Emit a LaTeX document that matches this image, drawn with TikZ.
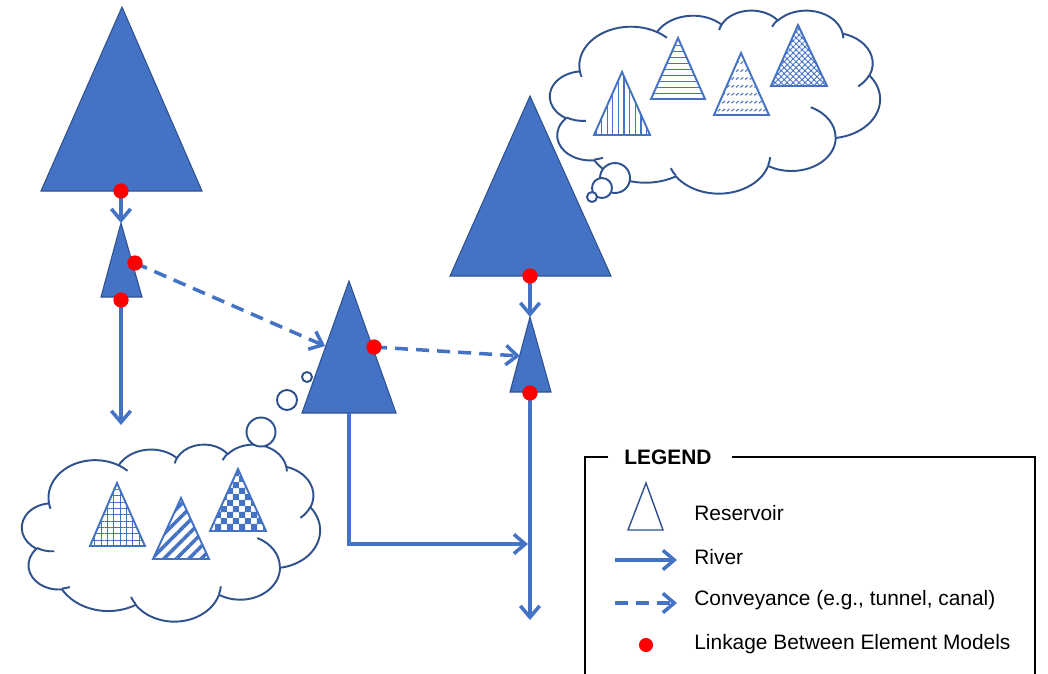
\documentclass[tikz,border=0pt]{standalone}
\usepackage{fontspec}
\setmainfont{Liberation Sans}
\usetikzlibrary{arrows.meta,patterns,patterns.meta}
\definecolor{oblue}{HTML}{4472C4}
\definecolor{odark}{HTML}{2F528F}
\definecolor{linkred}{HTML}{FF0000}
\pgfdeclarepatternformonly{bigchecker}{\pgfpointorigin}{\pgfqpoint{6.8pt}{6.8pt}}{\pgfqpoint{6.8pt}{6.8pt}}{%
 \pgfpathrectangle{\pgfpointorigin}{\pgfqpoint{3.45pt}{3.45pt}}%
 \pgfpathrectangle{\pgfqpoint{3.4pt}{3.4pt}}{\pgfqpoint{3.45pt}{3.45pt}}%
 \pgfusepath{fill}}
\pgfdeclarepatternformonly{slashrows}{\pgfqpoint{-0.5pt}{-0.5pt}}{\pgfqpoint{3.2pt}{5pt}}{\pgfqpoint{2.6pt}{4.5pt}}{%
 \pgfsetlinewidth{0.6pt}%
 \pgfpathmoveto{\pgfqpoint{0.3pt}{0.3pt}}%
 \pgfpathlineto{\pgfqpoint{1.8pt}{1.5pt}}%
 \pgfusepath{stroke}}
% parametric angle of an ellipse point given its visual angle
\pgfmathdeclarefunction{oot}{3}{\pgfmathparse{atan2((#1)*sin(#3),(#2)*cos(#3))}}
\pgfmathdeclarefunction{ood}{4}{\pgfmathparse{mod(oot(#1,#2,#3+#4)-oot(#1,#2,#3)+720,360)}}
\tikzset{
  resv/.style={fill=oblue, draw=odark, line width=0.6pt, line join=miter},
  patt/.style={draw=oblue, line width=1.1pt, pattern color=oblue},
  riv/.style={oblue, line width=2pt, -{Straight Barb[length=6.5pt,width=11pt]}},
  conv/.style={riv, dash pattern=on 7.4pt off 4.6pt},
  linkdot/.style={circle, fill=linkred, inner sep=0pt, minimum size=8.5pt},
  thought/.style={draw=odark, line width=1.1pt, fill=white},
  cloudline/.style={draw=odark, line width=1.1pt, line join=round},
  oa/.style args={#1/#2/#3/#4}{insert path={arc[x radius=#1, y radius=#2, start angle={oot(#1,#2,#3)}, delta angle={ood(#1,#2,#3,#4)}]}},
  lbl/.style={anchor=west, font=\fontsize{11.9pt}{14pt}\selectfont, inner sep=0pt},
}
\newcommand\drawoocloud[4]{%
 \begin{scope}[shift={(#1,#2)}, xscale=#3/100, yscale=#4/100]
  \filldraw[cloudline, fill=white] (9.028,33.264)
   [oa=15.632/21.273/-190.4875/123.7805]
   [oa=12.345/16.822/-144.1024/89.9452]
   [oa=10.104/13.762/-145.8079/99.7230]
   [oa=11.243/15.266/-130.9861/117.2417]
   [oa=12.345/16.836/-78.7089/109.0269]
   [oa=15.683/21.343/-46.2673/130.2690]
   [oa=13.391/18.211/0.6250/114.0333]
   [oa=15.630/21.331/22.4516/115.1726]
   [oa=17.870/24.405/66.2426/75.7110]
   [oa=10.093/13.699/-274.9421/146.7356]
   [oa=10.058/13.762/-246.8285/152.5189] -- cycle;
  \draw[cloudline]
   (10.864,60.595) [oa=10.058/13.762/86.742/26.4295]
   (16.037,80.785) [oa=10.093/13.699/73.6105/11.4475]
   (38.144,90.486) [oa=15.630/21.331/137.6242/14.0811]
   (66.729,80.442) [oa=15.630/21.331/6.4533/15.9984]
   (79.002,53.134) [oa=13.391/18.211/-70.2924/70.9174]
   (96.755,35.542) [oa=12.345/16.836/30.3180/27.7515]
   (88.713,12.560) [oa=11.243/15.266/-13.7443/14.8589]
   (67.310,9.148)  [oa=11.243/15.266/-149.1815/18.1954]
   (51.252,10.926) [oa=10.104/13.762/-163.4943/17.6864]
   (32.407,12.019) [oa=15.632/21.273/-66.7070/12.3194]
   (9.553,36.549)  [oa=15.632/21.273/157.6544/11.8582];
 \end{scope}}
\begin{document}
\begin{tikzpicture}[x=0.02cm, y=-0.02cm]
\useasboundingbox (0,0) rectangle (1048,673);
\clip (0,0) rectangle (1048,673);
\fill[white] (0,0) rectangle (1048,673);

% clouds and thought bubbles
\drawoocloud{22}{444}{298}{177}
\drawoocloud{550}{10}{330}{183}
\draw[thought] (307,377) circle (5);
\draw[thought] (287,400) circle (10);
\draw[thought] (261,432) circle (14.5);
\draw[thought] (615,178) circle (15);
\draw[thought] (602,188) circle (10);
\draw[thought] (592,197) circle (5);

% patterned triangles in cloud A
\draw[patt, pattern={Hatch[distance=3.6pt, angle=0, line width=0.6pt]}] (90,546) -- (117,483) -- (145,546) -- cycle;
\draw[patt, pattern={Lines[distance=5pt, angle=45, line width=2pt]}] (153,559) -- (181,498) -- (209,559) -- cycle;
\draw[patt, pattern=bigchecker] (210,531) -- (238,469) -- (266,531) -- cycle;
% patterned triangles in cloud B
\draw[patt, pattern={Lines[distance=3.2pt, angle=90, line width=0.7pt]}] (594,135) -- (622,72) -- (650,135) -- cycle;
\draw[patt, pattern={Lines[distance=3.4pt, angle=0, line width=0.7pt]}] (651,99) -- (678,38) -- (705,99) -- cycle;
\draw[patt, pattern=slashrows] (714,115) -- (741,53) -- (769,115) -- cycle;
\draw[patt, pattern={Hatch[distance=2.4pt, angle=45, line width=0.5pt]}] (771,86) -- (798,25) -- (827,86) -- cycle;

% reservoirs
\draw[resv] (41,191) -- (122,7) -- (202,191) -- cycle;
\draw[resv] (101,297) -- (121,223) -- (142,297) -- cycle;
\draw[resv] (302,413) -- (349,281) -- (396,413) -- cycle;
\draw[resv] (450,276) -- (530,96) -- (611,276) -- cycle;
\draw[resv] (510,392) -- (530,317) -- (551,392) -- cycle;

% named points
\coordinate (t2top) at (121,223);
\coordinate (t3left) at (325,346);
\coordinate (t3base) at (349,413);
\coordinate (t4left) at (520,356);
\coordinate (t4top) at (530,317);
\coordinate (endA) at (121,425);
\coordinate (bend) at (349,544);
\coordinate (endC) at (528,544);
\coordinate (endB) at (530,620);

% linkage dots (positions)
\node[linkdot] (d1) at (121,191) {};
\node[linkdot] (d2) at (135,263) {};
\node[linkdot] (d3) at (121,300) {};
\node[linkdot] (d4) at (374,347) {};
\node[linkdot] (d5) at (530,276) {};
\node[linkdot] (d6) at (530,393) {};

% connectors
\draw[riv] (d1.center) -- (t2top);
\draw[riv] (d3.center) -- (endA);
\draw[conv] (d2.center) -- (t3left);
\draw[conv] (d4.center) -- (t4left);
\draw[riv] (d5.center) -- (t4top);
\draw[riv] (d6.center) -- (endB);
\draw[riv] (t3base) -- (bend) -- (endC);

% dots on top
\foreach \p in {d1,d2,d3,d4,d5,d6} \fill[linkred] (\p) circle (7.5);

% legend
\draw[black, line width=0.9pt] (608,457) -- (585,457) -- (585,690);
\draw[black, line width=0.9pt] (732,457) -- (1035,457) -- (1035,690);
\node[font=\fontsize{11.9pt}{14pt}\selectfont\bfseries, inner sep=0pt] (legtitle) at (668,457) {LEGEND};
\draw[draw=odark, line width=0.8pt] (628,530) -- (646,483) -- (663,530) -- cycle;
\node[lbl] (lres) at (694,513) {Reservoir};
\coordinate (lrivA) at (615,560);
\coordinate (lrivB) at (677,560);
\draw[riv] (lrivA) -- (lrivB);
\node[lbl] (lriv) at (694,557) {River};
\coordinate (lconA) at (615,603);
\coordinate (lconB) at (677,603);
\draw[conv] (lconA) -- (lconB);
\node[lbl] (lcon) at (694,600) {Conveyance (e.g., tunnel, canal)};
\node[linkdot, minimum size=8pt] (ldot) at (646,645) {};
\node[lbl] (llink) at (694,644) {Linkage Between Element Models};
\end{tikzpicture}
\end{document}
